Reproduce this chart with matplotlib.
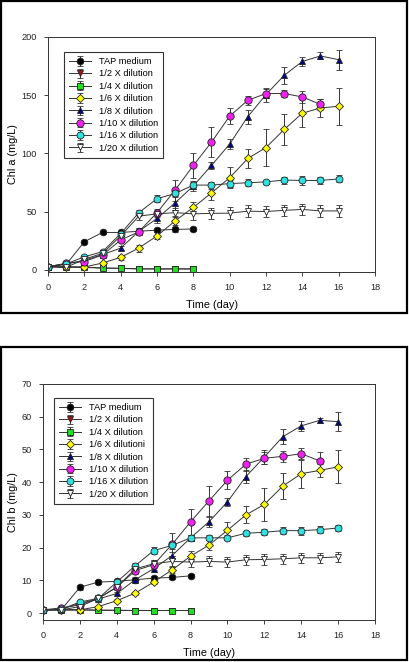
import matplotlib
matplotlib.use("Agg")
import matplotlib.pyplot as plt
from matplotlib.patches import Rectangle
import numpy as np

plt.rcParams['font.family'] = ['Liberation Sans', 'DejaVu Sans']

# ---------------- data ----------------
days_short = list(range(0, 9))
days_long = list(range(0, 17))
days_tenth = list(range(0, 16))

labels_a = ["TAP medium", "1/2 X dilution", "1/4 X dilution", "1/6 X dilution",
            "1/8 X dilution", "1/10 X dilution", "1/16 X dilution", "1/20 X dilution"]
labels_b = ["TAP medium", "1/2 X dilution", "1/4 X dilution", "1/6 X dilutioni",
            "1/8 X dilution", "1/10 X dilution", "1/16 X dilution", "1/20 X dilution"]

# Chl a
a_tap = [2.6, 4.5, 24, 32, 32, 33, 34, 34.6, 35]
a_tap_err = [0.5, 1, 1.5, 1.5, 1.5, 1.5, 1.5, 2, 1.5]
a_half = [2.6, 2.5, 2.2, 1.5, 1.2, 0.8, 0.7, 0.7, 0.7]
a_half_err = [0.3] * 9
a_quarter = [2.6, 2.2, 2.0, 1.3, 1.1, 0.6, 0.6, 0.6, 0.6]
a_quarter_err = [0.3] * 9
a_sixth = [2.6, 2.2, 2.3, 5.7, 10.6, 18.6, 29, 42, 53.5, 66, 79, 95.6, 105, 120.5, 134.5, 139, 140.5]
a_sixth_err = [0.3, 0.3, 0.5, 1, 2, 3, 3, 4, 5, 6, 9, 8, 16, 13.5, 12, 8, 16]
a_eighth = [2.6, 5, 8, 13, 18.5, 33, 44, 57.5, 72, 89.6, 108, 131.6, 150.5, 167, 179, 183.7, 180.5]
a_eighth_err = [0.3, 0.5, 1, 1, 2, 3, 4, 6, 4, 3, 4, 6, 6, 7, 4, 3, 8.5]
a_tenth = [2.6, 5.5, 7, 12.6, 25.5, 32.6, 49, 68.4, 89.6, 109.6, 132, 145.6, 151.4, 151.4, 148.5, 142]
a_tenth_err = [0.3, 0.5, 1, 1, 2, 3, 3, 9, 11, 13, 7, 4, 4, 3, 5, 5]
a_sixteenth = [2.6, 5, 11, 15.5, 31, 49, 61, 65.5, 72.7, 72.7, 74, 74.7, 75.5, 77, 76.7, 76.7, 78]
a_sixteenth_err = [0.3, 0.5, 1, 1, 2, 2, 3, 3, 3, 3, 3, 3, 2, 3, 4, 3, 3]
a_twentieth = [2.6, 2, 9, 14, 29, 46, 48, 49, 48, 48.4, 48.6, 50.3, 50, 51, 51.8, 50.5, 50.5]
a_twentieth_err = [0.3, 0.5, 1, 1, 2, 3, 3, 4, 5, 5, 5, 5, 5, 5, 5, 5, 5]

# Chl b
b_tap = [1, 1.1, 7.9, 9.5, 9.7, 10.2, 10.7, 10.9, 11.4]
b_tap_err = [0.2, 0.2, 0.8, 0.5, 0.5, 0.5, 0.6, 0.6, 0.5]
b_half = [1, 1.0, 1.0, 0.9, 0.8, 0.8, 0.8, 0.8, 0.8]
b_half_err = [0.1] * 9
b_quarter = [1, 1.0, 1.0, 0.9, 0.9, 0.8, 0.8, 0.8, 0.8]
b_quarter_err = [0.1] * 9
b_sixth = [1, 1.0, 1.0, 2.0, 3.8, 6.1, 9.5, 13.2, 17.4, 20.8, 25.3, 30, 33.2, 38.8, 42.6, 43.6, 44.7]
b_sixth_err = [0.1, 0.1, 0.2, 0.3, 0.4, 0.5, 0.6, 1, 1.5, 1.5, 2.6, 2.6, 5, 4, 4.3, 2, 5]
b_eighth = [1, 1.2, 3, 4.3, 6, 10.2, 13.6, 17.6, 23, 27.9, 34, 41.7, 47.7, 53.9, 57.2, 58.9, 58.5]
b_eighth_err = [0.1, 0.2, 0.4, 0.4, 0.6, 0.8, 1, 1, 1, 1.5, 1.3, 2, 2, 2.2, 1.5, 0.7, 3]
b_tenth = [1, 1.6, 2.5, 4.5, 7.9, 13, 14.8, 21, 27.9, 34.3, 40.6, 45.5, 47.3, 47.9, 48.7, 46.5]
b_tenth_err = [0.1, 0.2, 0.4, 0.5, 0.8, 1, 1.5, 3.5, 4, 4.5, 2.8, 2, 1.8, 1.6, 1.6, 2.7]
b_sixteenth = [1, 1.2, 3.4, 4.5, 9.5, 14.5, 19.1, 20.7, 23, 23, 23, 24.4, 24.7, 25.2, 25.2, 25.5, 26]
b_sixteenth_err = [0.1, 0.2, 0.4, 0.4, 0.6, 0.8, 1, 1, 1, 0.8, 0.8, 0.8, 0.9, 1, 1.2, 1, 0.8]
b_twentieth = [1, 1, 2, 4.5, 8, 13.5, 15.1, 15.8, 15.6, 15.8, 15.6, 16.3, 16.4, 16.6, 16.9, 16.9, 17.2]
b_twentieth_err = [0.1, 0.2, 0.3, 0.4, 0.6, 1, 1.2, 1.5, 1.5, 1.5, 1.5, 1.5, 1.6, 1.6, 1.6, 1.6, 1.6]

# ---------------- styles ----------------
markers = ['o', 'v', 's', 'D', '^', 'o', 'o', 'v']
faces = ['black', '#aa1111', '#22dd22', '#ffff00', '#000080', '#ee22ee', '#33e0e0', 'white']
msizes = [4.8, 4.8, 4.8, 4.5, 5.0, 5.3, 5.0, 5.0]

series_a = [(days_short, a_tap, a_tap_err), (days_short, a_half, a_half_err),
            (days_short, a_quarter, a_quarter_err), (days_long, a_sixth, a_sixth_err),
            (days_long, a_eighth, a_eighth_err), (days_tenth, a_tenth, a_tenth_err),
            (days_long, a_sixteenth, a_sixteenth_err), (days_long, a_twentieth, a_twentieth_err)]
series_b = [(days_short, b_tap, b_tap_err), (days_short, b_half, b_half_err),
            (days_short, b_quarter, b_quarter_err), (days_long, b_sixth, b_sixth_err),
            (days_long, b_eighth, b_eighth_err), (days_tenth, b_tenth, b_tenth_err),
            (days_long, b_sixteenth, b_sixteenth_err), (days_long, b_twentieth, b_twentieth_err)]

W, H = 409, 662
fig = plt.figure(figsize=(W / 100, H / 100), dpi=100)

# outer frames
for (x0, y0, x1, y1) in [(1, 1, 407, 313), (1, 347, 407, 660)]:
    fig.add_artist(Rectangle((x0 / W, 1 - y1 / H), (x1 - x0) / W, (y1 - y0) / H,
                             transform=fig.transFigure, fill=False, lw=1.6,
                             edgecolor='black'))


def make_panel(rect, series, labels, ylim, yticks, ylabel, legend_bbox):
    ax = fig.add_axes(rect)
    for (x, y, e), lab, m, fc, ms in zip(series, labels, markers, faces, msizes):
        ax.errorbar(x, y, yerr=e, fmt='-', color='#333333', lw=0.7,
                    marker=m, markerfacecolor=fc, markeredgecolor='#222222',
                    markeredgewidth=0.6, markersize=ms, ecolor='#333333',
                    elinewidth=0.7, capsize=2.3, capthick=0.7, label=lab)
    ax.set_xlim(0, 18)
    ax.set_ylim(*ylim)
    ax.set_xticks(range(0, 19, 2))
    ax.set_yticks(yticks)
    ax.tick_params(direction='out', length=3, width=0.6, labelsize=6.6,
                   colors='#222222', pad=5)
    for s in ax.spines.values():
        s.set_linewidth(0.7)
        s.set_color('#333333')
    ax.set_xlabel('Time (day)', fontsize=7.8, labelpad=6)
    ax.set_ylabel(ylabel, fontsize=7.8, labelpad=2.5)
    handles, labs = ax.get_legend_handles_labels()
    leg = ax.legend(handles, labs, loc='upper left', bbox_to_anchor=legend_bbox,
                    fontsize=6.7, frameon=True, fancybox=False, framealpha=1,
                    edgecolor='#333333', handlelength=2.4, labelspacing=0.36,
                    borderpad=0.55, handletextpad=0.8, borderaxespad=0)
    leg.get_frame().set_linewidth(0.8)
    return ax


# top panel: axes pixels left 48, right 375, top 37, bottom 272
ax1 = make_panel([48 / W, 1 - 272 / H, (375 - 48) / W, (272 - 37) / H],
                 series_a, labels_a, (-2, 200), [0, 50, 100, 150, 200],
                 'Chl a (mg/L)', ((64 - 48) / (375 - 48), 1 - (52 - 37) / (272 - 37)))
# bottom panel: left 43, right 375, top 384, bottom 620
ax2 = make_panel([43 / W, 1 - 620 / H, (375 - 43) / W, (620 - 384) / H],
                 series_b, labels_b, (-2.1, 70), [0, 10, 20, 30, 40, 50, 60, 70],
                 'Chl b (mg/L)', ((54 - 43) / (375 - 43), 1 - (398 - 384) / (620 - 384)))

fig.savefig('out.png', dpi=100)
